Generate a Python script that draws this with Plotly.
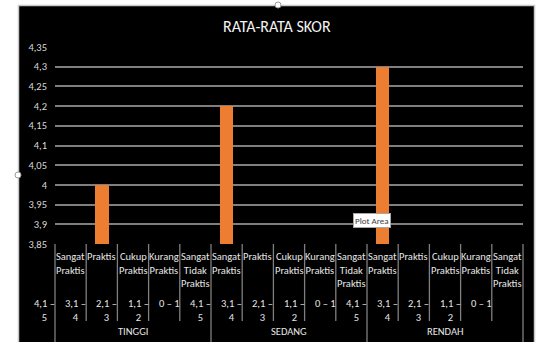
import plotly.graph_objects as go

# --- data -------------------------------------------------------------
kelompok = ["TINGGI", "SEDANG", "RENDAH"]
kategori = ["Sangat Praktis", "Praktis", "Cukup Praktis", "Kurang Praktis", "Sangat Tidak Praktis"]
rentang = ["4,1 – 5", "3,1 – 4", "2,1 – 3", "1,1 – 2", "0 – 1"]
skor_tinggi = [None, 4.0, None, None, None]
skor_sedang = [4.2, None, None, None, None]
skor_rendah = [4.3, None, None, None, None]
y_tickvals = [3.85, 3.9, 3.95, 4.0, 4.05, 4.1, 4.15, 4.2, 4.25, 4.3, 4.35]
y_ticktext = ["3,85", "3,9", "3,95", "4", "4,05", "4,1", "4,15", "4,2", "4,25", "4,3", "4,35"]

# --- layout geometry (pixels) ----------------------------------------
W, H = 548, 342
L, R, T, B = 55, 25, 47, 98
PW, PH = W - L - R, H - T - B
FONT = "Carlito, 'Liberation Sans Narrow', Lato, sans-serif"
TXT = "#e6e6e6"
GRID = "#7f7f7f"


def px_x(px):
    return (px - L) / PW


def px_y(py):
    return 1 - (py - T) / PH


n_kat = len(kategori)
n_all = n_kat * len(kelompok)
skor = skor_tinggi + skor_sedang + skor_rendah
xs = list(range(n_all))


def col_paper(x):
    # data x -> paper fraction on the category axis
    return (x + 0.5) / n_all


fig = go.Figure()
fig.add_trace(go.Bar(
    x=xs, y=skor, marker=dict(color="#ED7D31", line=dict(width=0)),
    width=0.43, hoverinfo="skip", showlegend=False,
))

shapes = []
# chart area background and frame
shapes.append(dict(type="rect", xref="paper", yref="paper", layer="below",
                   x0=px_x(18.5), x1=px_x(534.5), y0=px_y(H + 5), y1=px_y(5.5),
                   fillcolor="black", line=dict(color="#c8c8c8", width=1.5)))

# dividers between category labels
for k in range(n_all + 1):
    group_edge = k % n_kat == 0
    shapes.append(dict(type="line", xref="paper", yref="paper",
                       x0=k / n_all, x1=k / n_all,
                       y0=px_y(H if group_edge else 321), y1=0,
                       line=dict(color=GRID, width=1.3)))

# selection handles
for hx, hy in [(278, 5), (18, 175)]:
    shapes.append(dict(type="circle", xref="paper", yref="paper",
                       x0=px_x(hx - 3), x1=px_x(hx + 3),
                       y0=px_y(hy + 3), y1=px_y(hy - 3),
                       fillcolor="white", line=dict(color="#9a9a9a", width=1)))


def note(text, x, y, size=10.5, xanchor="center", yanchor="middle", **kw):
    d = dict(text=text, xref="paper", yref="paper", x=x, y=y,
             xanchor=xanchor, yanchor=yanchor, showarrow=False, align="center",
             borderpad=0,
             font=dict(family=FONT, size=size, color=kw.pop("color", TXT)))
    d.update(kw)
    return d


annotations = [note("RATA-RATA SKOR", px_x(277), px_y(27), size=16, color="#f2f2f2")]

for g, nama in enumerate(kelompok):
    for i, kat in enumerate(kategori):
        x = g * n_kat + i
        # category name, one word per line
        annotations.append(note("<br>".join(kat.split(" ")), col_paper(x),
                                px_y(249), yanchor="top"))
        # score range, written against the left edge of its column
        r = rentang[i]
        text = "<br>".join(r.rsplit(" ", 1)) if "," in r else r
        annotations.append(note(text, x / n_all, px_y(296), xanchor="right",
                                yanchor="top", xshift=1))
    annotations.append(note(nama, col_paper(g * n_kat + 2), px_y(331)))

annotations.append(note("Plot Area", px_x(372), px_y(220), size=9, color="#404040",
                        bgcolor="white", bordercolor="#a6a6a6", borderwidth=1,
                        borderpad=1))

fig.update_layout(
    width=W, height=H,
    margin=dict(l=L, r=R, t=T, b=B, pad=0),
    paper_bgcolor="white", plot_bgcolor="black",
    font=dict(family=FONT, color=TXT),
    bargap=0,
    shapes=shapes, annotations=annotations,
    xaxis=dict(range=[-0.5, n_all - 0.5], showticklabels=False, showgrid=False,
               zeroline=False, showline=False, ticks="", fixedrange=True),
    yaxis=dict(range=[3.85, 4.35], tickvals=y_tickvals, ticktext=y_ticktext,
               showgrid=True, gridcolor=GRID, gridwidth=1.5, zeroline=False,
               showline=False, ticks="", ticklabelstandoff=7,
               tickfont=dict(family=FONT, size=10.5, color="#d9d9d9")),
)

fig.write_html("out.html")
